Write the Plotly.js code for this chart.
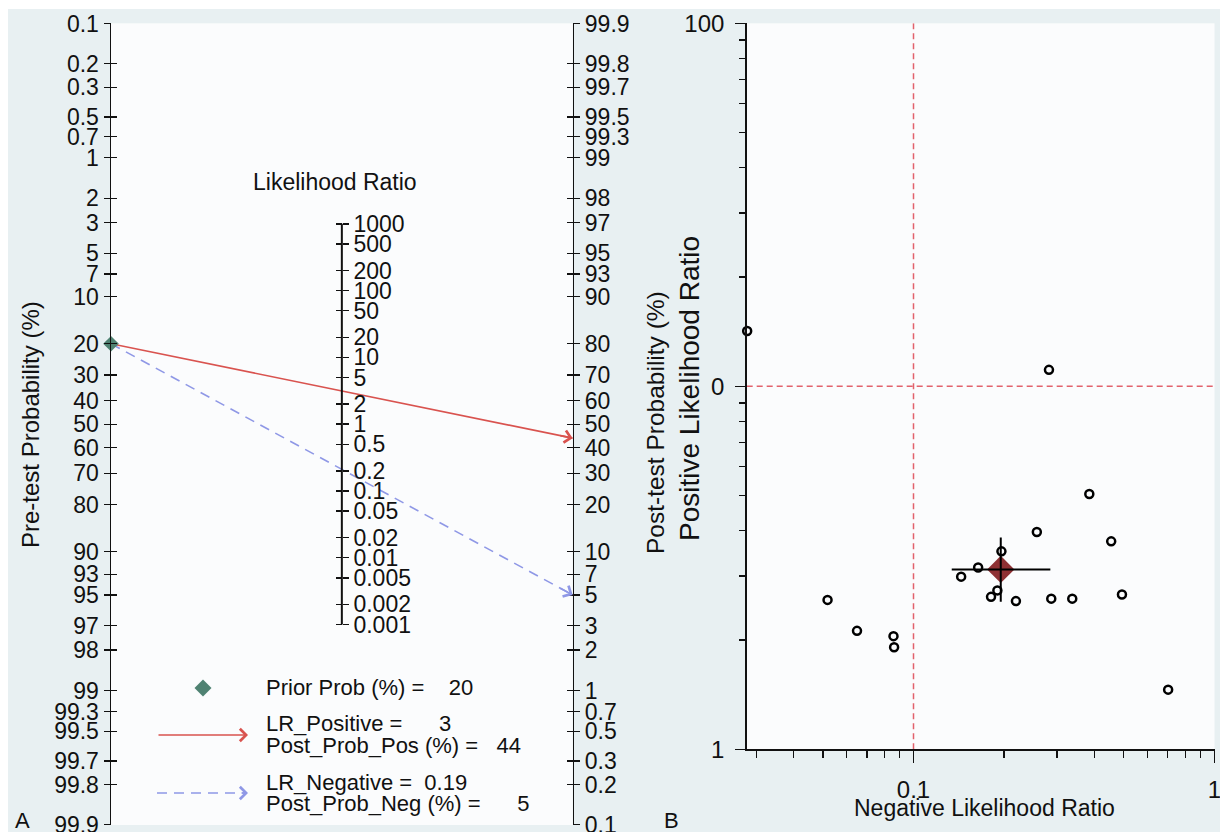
<!DOCTYPE html>
<html><head><meta charset="utf-8">
<script src="https://cdn.plot.ly/plotly-3.0.1.min.js"></script>
<style>html,body{margin:0;padding:0;background:#fff;}#chart{width:1220px;height:832px;}</style>
</head><body><div id="chart"></div>
<script>
// ---------------- Panel A (Fagan nomogram) data ----------------
const probTicks = [0.1,0.2,0.3,0.5,0.7,1,2,3,5,7,10,20,30,40,50,60,70,80,90,93,95,97,98,99,99.3,99.5,99.7,99.8,99.9];
const probTickLabels = probTicks.map(String);
const lrTicks = [1000,500,200,100,50,20,10,5,2,1,0.5,0.2,0.1,0.05,0.02,0.01,0.005,0.002,0.001];
const lrTickLabels = lrTicks.map(String);
const priorProb = 20;
const lrPositive = 3;
const lrNegative = 0.19;
const postProbPos = 44;
const postProbNeg = 5;

// ---------------- Panel B (likelihood ratio scattergram) data ----------------
const negLR = [0.0280, 0.282, 0.384, 0.257, 0.454, 0.196, 0.164, 0.144, 0.190, 0.181, 0.219, 0.287, 0.337, 0.493, 0.0518, 0.0649, 0.0858, 0.0862, 0.702];
const posLR = [14.2, 11.1, 5.05, 3.97, 3.74, 3.51, 3.17, 2.99, 2.74, 2.63, 2.56, 2.60, 2.60, 2.67, 2.58, 2.12, 2.05, 1.91, 1.46];
const summaryNegLR = [0.195];
const summaryPosLR = [3.13];
const summaryNegCI = [0.134, 0.285];
const summaryPosCI = [2.55, 3.83];
const refNegLR = 0.1;
const refPosLR = 10;
const bXRange = [0.0279, 1.001];
const bYRange = [1, 100];
const bXTicks = [0.1, 1];
const bXTickLabels = ['0.1', '1'];
const bXMinor = [0.03,0.04,0.05,0.06,0.07,0.08,0.09,0.2,0.3,0.4,0.5,0.6,0.7,0.8,0.9];
const bYTicks = [1, 10, 100];
const bYTickLabels = ['1', '0', '100'];
const bYMinor = [2,3,4,5,6,7,8,9,20,30,40,50,60,70,80,90];

// ---------------- helpers ----------------
const W = 1220, H = 832;
const px = x => x / W;
const py = y => 1 - y / H;
const logit = pct => { const p = pct / 100; return Math.log(p / (1 - p)); };
const sp = n => '\u00a0'.repeat(n);
const FONT = 'Liberation Sans, Arial, Helvetica, sans-serif';
const INK = '#111111';
const RED = '#d9534f';
const BLUE = '#8f98e6';
const TEAL = '#4f8272';

const L = -logit(0.1) + 0.003;            // half-range of the logit probability axes
const LRR = 2 * L / Math.LN10;            // matching half-range of the log10 LR axis
const aX = [px(111), px(572.7)];
const aY = [py(825), py(23.3)];
const lrPos = (aX[0] + aX[1]) / 2;

const probVals = probTicks.map(logit);

function dummy(xa, ya, yv) {
  return {type:'scatter', mode:'markers', x:[0.5], y:[yv], xaxis:xa, yaxis:ya,
          marker:{opacity:0, size:1}, hoverinfo:'skip', showlegend:false};
}

const yPre = logit(priorProb);
const yPosEnd = -logit(postProbPos);
const yNegEnd = -logit(postProbNeg);

const traces = [
  dummy('x','y2',0), dummy('x','y4',0), dummy('x','y5',0), dummy('x','y6',1),
  // LR axis spine, between its extreme tick values
  {type:'scatter', mode:'lines', x:[0.5,0.5], y:[lrTicks[0], lrTicks[lrTicks.length-1]], xaxis:'x', yaxis:'y3',
   line:{color:INK, width:2}, hoverinfo:'skip', showlegend:false},
  {type:'scatter', mode:'lines', x:[0,1], y:[yPre, yPosEnd], xaxis:'x', yaxis:'y',
   line:{color:RED, width:1.6}, hoverinfo:'skip', showlegend:false, cliponaxis:false},
  {type:'scatter', mode:'lines', x:[0,1], y:[yPre, yNegEnd], xaxis:'x', yaxis:'y',
   line:{color:BLUE, width:1.6, dash:'10px,7px'}, hoverinfo:'skip', showlegend:false, cliponaxis:false},
  {type:'scatter', mode:'markers', x:[0], y:[yPre], xaxis:'x', yaxis:'y',
   marker:{symbol:'diamond', size:12, color:TEAL}, hoverinfo:'skip', showlegend:false, cliponaxis:false},
  // Panel B
  {type:'scatter', mode:'lines', x:[refNegLR, refNegLR], y:bYRange, xaxis:'x2', yaxis:'y7',
   line:{color:'#e2626c', width:1.5, dash:'6px,4px'}, hoverinfo:'skip', showlegend:false},
  {type:'scatter', mode:'lines', x:bXRange, y:[refPosLR, refPosLR], xaxis:'x2', yaxis:'y7',
   line:{color:'#e2626c', width:1.5, dash:'6px,4px'}, hoverinfo:'skip', showlegend:false},
  {type:'scatter', mode:'markers', x:summaryNegLR, y:summaryPosLR, xaxis:'x2', yaxis:'y7',
   marker:{symbol:'diamond', size:21, color:'#8e3033'}, hoverinfo:'skip', showlegend:false},
  {type:'scatter', mode:'lines', x:summaryNegCI, y:[summaryPosLR[0], summaryPosLR[0]], xaxis:'x2', yaxis:'y7',
   line:{color:'#000', width:2}, hoverinfo:'skip', showlegend:false},
  {type:'scatter', mode:'lines', x:[summaryNegLR[0], summaryNegLR[0]], y:summaryPosCI, xaxis:'x2', yaxis:'y7',
   line:{color:'#000', width:2}, hoverinfo:'skip', showlegend:false},
  {type:'scatter', mode:'markers', x:negLR, y:posLR, xaxis:'x2', yaxis:'y7', cliponaxis:false,
   marker:{symbol:'circle-open', size:8, color:'#000', line:{width:2.5, color:'#000'}}, hoverinfo:'skip', showlegend:false}
];

const tickFontA = {family:FONT, size:23, color:INK};
const tickFontB = {family:FONT, size:24, color:INK};
const baseY = {showgrid:false, zeroline:false, tickmode:'array', fixedrange:true, ticklabeloverflow:'allow'};

const layout = {
  width:W, height:H, margin:{l:0,r:0,t:0,b:0},
  paper_bgcolor:'#e8f0f2', plot_bgcolor:'#fbfcfd',
  showlegend:false,
  xaxis:{domain:aX, range:[0,1], showline:false, showticklabels:false, ticks:'', showgrid:false, zeroline:false, fixedrange:true},
  yaxis:Object.assign({}, baseY, {domain:aY, anchor:'x', side:'left', range:[L,-L], tickvals:probVals, ticktext:probTickLabels,
    ticks:'outside', ticklen:6, tickwidth:1.3, tickcolor:INK, showline:true, linecolor:INK, linewidth:1.5, tickfont:tickFontA}),
  yaxis4:Object.assign({}, baseY, {overlaying:'y', anchor:'x', side:'left', range:[L,-L], tickvals:probVals, ticktext:probTickLabels,
    ticks:'inside', ticklen:6, tickwidth:1.3, tickcolor:INK, showline:false, showticklabels:false}),
  yaxis2:Object.assign({}, baseY, {overlaying:'y', anchor:'x', side:'right', range:[-L,L], tickvals:probVals, ticktext:probTickLabels,
    ticks:'outside', ticklen:6, tickwidth:1.3, tickcolor:INK, showline:true, linecolor:INK, linewidth:1.5, tickfont:tickFontA}),
  yaxis5:Object.assign({}, baseY, {overlaying:'y', anchor:'x', side:'right', range:[-L,L], tickvals:probVals, ticktext:probTickLabels,
    ticks:'inside', ticklen:6, tickwidth:1.3, tickcolor:INK, showline:false, showticklabels:false}),
  yaxis3:Object.assign({}, baseY, {overlaying:'y', anchor:'free', position:lrPos, side:'right', type:'log', range:[-LRR, LRR],
    tickvals:lrTicks, ticktext:lrTickLabels, ticks:'outside', ticklen:6, tickwidth:1.5, tickcolor:INK,
    showline:false, tickfont:tickFontA}),
  yaxis6:Object.assign({}, baseY, {overlaying:'y', anchor:'free', position:lrPos, side:'right', type:'log', range:[-LRR, LRR],
    tickvals:lrTicks, ticktext:lrTickLabels, ticks:'inside', ticklen:6, tickwidth:1.5, tickcolor:INK, showline:false, showticklabels:false}),
  xaxis2:{domain:[px(746.7), px(1214.5)], anchor:'y7', type:'log', range:[Math.log10(bXRange[0]), Math.log10(bXRange[1])],
    tickmode:'array', tickvals:bXTicks, ticktext:bXTickLabels, ticks:'outside', ticklen:12, tickwidth:1.5, tickcolor:INK,
    showline:true, linecolor:INK, linewidth:1.5, showgrid:false, zeroline:false, fixedrange:true, ticklabeloverflow:'allow',
    tickfont:tickFontB, ticklabelstandoff:6,
    minor:{tickmode:'array', tickvals:bXMinor, ticks:'outside', ticklen:7, tickwidth:1.3, tickcolor:INK, showgrid:false}},
  yaxis7:{domain:[py(749.3), py(23.3)], anchor:'x2', type:'log', range:[Math.log10(bYRange[0]), Math.log10(bYRange[1])],
    tickmode:'array', tickvals:bYTicks, ticktext:bYTickLabels, ticks:'outside', ticklen:10, tickwidth:1.5, tickcolor:INK,
    showline:true, linecolor:INK, linewidth:1.5, showgrid:false, zeroline:false, fixedrange:true, ticklabeloverflow:'allow',
    tickfont:tickFontB, ticklabelstandoff:6,
    minor:{tickmode:'array', tickvals:bYMinor, ticks:'outside', ticklen:6, tickwidth:1.3, tickcolor:INK, showgrid:false}},
  shapes:[
    {type:'rect', xref:'paper', yref:'paper', x0:0, x1:1, y0:py(9), y1:1, fillcolor:'#ffffff', line:{width:0}, layer:'below'},
    {type:'rect', xref:'paper', yref:'paper', x0:0, x1:px(8), y0:0, y1:1, fillcolor:'#ffffff', line:{width:0}, layer:'below'},
    {type:'path', xref:'paper', yref:'paper',
     path:`M ${px(203)},${py(679.5)} L ${px(211.5)},${py(688)} L ${px(203)},${py(696.5)} L ${px(194.5)},${py(688)} Z`,
     fillcolor:TEAL, line:{width:0}},
    {type:'line', xref:'paper', yref:'paper', x0:px(157), x1:px(244), y0:py(793), y1:py(793), line:{color:BLUE, width:1.6, dash:'10px,7px'}}
  ],
  annotations:[]
};

const ann = layout.annotations;
function txt(text, x, y, o) {
  ann.push(Object.assign({text:text, xref:'paper', yref:'paper', x:px(x), y:py(y), showarrow:false,
    xanchor:'center', yanchor:'middle', font:{family:FONT, size:22, color:INK}}, o || {}));
}
txt('Pre-test Probability (%)', 30, 425, {textangle:-90, font:{family:FONT, size:24, color:INK}});
txt('Post-test Probability (%)', 655, 423, {textangle:-90, font:{family:FONT, size:24.5, color:INK}});
txt('Positive Likelihood Ratio', 690, 389, {textangle:-90, font:{family:FONT, size:28, color:INK}});
txt('Likelihood Ratio', 335, 182, {font:{family:FONT, size:23, color:INK}});
txt('Negative Likelihood Ratio', 985, 808, {font:{family:FONT, size:23, color:INK}});
txt('A', 22, 820, {font:{family:FONT, size:22, color:INK}});
txt('B', 671, 820, {font:{family:FONT, size:22, color:INK}});
// legend texts
txt(`Prior Prob (%) =${sp(4)}${priorProb}`, 264, 687, {xanchor:'left'});
txt(`LR_Positive =${sp(6)}${lrPositive}`, 264, 723, {xanchor:'left'});
txt(`Post_Prob_Pos (%) =${sp(3)}${postProbPos}`, 264, 745, {xanchor:'left'});
txt(`LR_Negative =${sp(2)}${lrNegative}`, 264, 782, {xanchor:'left'});
txt(`Post_Prob_Neg (%) =${sp(6)}${postProbNeg}`, 264, 803, {xanchor:'left'});
// legend arrows
ann.push({text:' ', xref:'paper', yref:'paper', x:px(248), y:py(735), ax:-91, ay:0, showarrow:true,
  arrowhead:4, arrowsize:1.5, arrowwidth:1.6, arrowcolor:RED, standoff:0, font:{size:1}});
ann.push({text:' ', xref:'paper', yref:'paper', x:px(248), y:py(793), ax:-8, ay:0, showarrow:true,
  arrowhead:4, arrowsize:1.5, arrowwidth:1.6, arrowcolor:BLUE, standoff:0, font:{size:1}});
// nomogram arrowheads
const f = 0.97;
ann.push({text:' ', xref:'x', yref:'y', axref:'x', ayref:'y', x:1, y:yPosEnd, ax:f, ay:yPre + f*(yPosEnd-yPre),
  showarrow:true, arrowhead:4, arrowsize:1.5, arrowwidth:1.6, arrowcolor:RED, standoff:0, font:{size:1}});
ann.push({text:' ', xref:'x', yref:'y', axref:'x', ayref:'y', x:1, y:yNegEnd, ax:f, ay:yPre + f*(yNegEnd-yPre),
  showarrow:true, arrowhead:4, arrowsize:1.5, arrowwidth:1.6, arrowcolor:BLUE, standoff:0, font:{size:1}});

Plotly.newPlot('chart', traces, layout, {displayModeBar:false, staticPlot:true});
</script></body></html>
